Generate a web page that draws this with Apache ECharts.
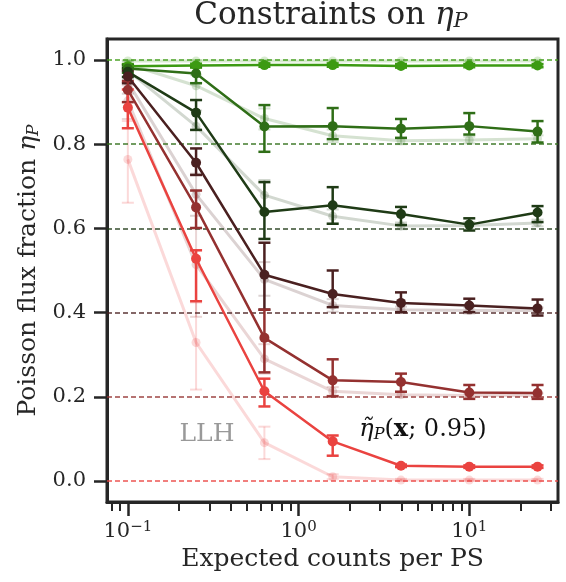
<!DOCTYPE html>
<html>
<head>
<meta charset="utf-8">
<script src="https://cdn.jsdelivr.net/npm/echarts@6/dist/echarts.min.js"></script>
<style>
  html, body { margin: 0; padding: 0; background: #fff; }
  #chart { width: 566px; height: 582px; }
</style>
</head>
<body>
<div id="chart"></div>
<script>
// expected counts per PS (x positions)
const counts = [0.1, 0.251, 0.631, 1.585, 3.981, 10, 25.12];
// true Poisson fractions (dashed lines)
const truth = [1.0, 0.8, 0.6, 0.4, 0.2, 0.0];
const colors = ['#3c9a12', '#2f6e17', '#1f3b16', '#4a2020', '#943130', '#ea4340'];

// eta tilde (x; 0.95) medians and error ranges
const eta100 = [0.985, 0.987, 0.988, 0.988, 0.986, 0.987, 0.987];
const eta100Lo = [0.979, 0.982, 0.984, 0.984, 0.982, 0.983, 0.983];
const eta100Hi = [0.990, 0.991, 0.992, 0.992, 0.990, 0.990, 0.990];
const eta80 = [0.980, 0.968, 0.842, 0.843, 0.837, 0.843, 0.830];
const eta80Lo = [0.970, 0.945, 0.782, 0.812, 0.815, 0.823, 0.804];
const eta80Hi = [0.988, 0.985, 0.893, 0.886, 0.860, 0.874, 0.855];
const eta60 = [0.972, 0.875, 0.639, 0.655, 0.634, 0.609, 0.638];
const eta60Lo = [0.960, 0.834, 0.575, 0.611, 0.608, 0.595, 0.615];
const eta60Hi = [0.982, 0.905, 0.710, 0.698, 0.651, 0.624, 0.653];
const eta40 = [0.961, 0.756, 0.490, 0.444, 0.423, 0.417, 0.410];
const eta40Lo = [0.945, 0.727, 0.407, 0.413, 0.401, 0.401, 0.393];
const eta40Hi = [0.975, 0.790, 0.566, 0.500, 0.448, 0.433, 0.431];
const eta20 = [0.929, 0.650, 0.340, 0.239, 0.235, 0.210, 0.209];
const eta20Lo = [0.900, 0.601, 0.258, 0.201, 0.212, 0.195, 0.195];
const eta20Hi = [0.950, 0.690, 0.407, 0.289, 0.255, 0.228, 0.228];
const eta0 = [0.887, 0.528, 0.213, 0.094, 0.036, 0.034, 0.034];
const eta0Lo = [0.838, 0.427, 0.177, 0.060, 0.033, 0.031, 0.031];
const eta0Hi = [0.930, 0.548, 0.243, 0.108, 0.039, 0.037, 0.037];

// LLH results (faint)
const llh100 = [0.998, 0.998, 0.998, 0.998, 0.998, 0.998, 0.998];
const llh100Lo = [0.994, 0.994, 0.995, 0.995, 0.995, 0.995, 0.995];
const llh100Hi = [1.000, 1.000, 1.000, 1.000, 1.000, 1.000, 1.000];
const llh80 = [0.990, 0.939, 0.861, 0.820, 0.808, 0.810, 0.813];
const llh80Lo = [0.975, 0.905, 0.835, 0.805, 0.800, 0.802, 0.805];
const llh80Hi = [0.998, 0.965, 0.885, 0.835, 0.816, 0.818, 0.821];
const llh60 = [0.975, 0.843, 0.679, 0.629, 0.606, 0.607, 0.613];
const llh60Lo = [0.955, 0.800, 0.640, 0.612, 0.598, 0.599, 0.605];
const llh60Hi = [0.990, 0.880, 0.715, 0.645, 0.614, 0.615, 0.621];
const llh40 = [0.948, 0.681, 0.479, 0.417, 0.407, 0.405, 0.405];
const llh40Lo = [0.920, 0.630, 0.440, 0.402, 0.400, 0.398, 0.398];
const llh40Hi = [0.970, 0.730, 0.520, 0.432, 0.414, 0.412, 0.412];
const llh20 = [0.903, 0.514, 0.290, 0.213, 0.205, 0.203, 0.203];
const llh20Lo = [0.860, 0.390, 0.255, 0.203, 0.199, 0.198, 0.198];
const llh20Hi = [0.940, 0.600, 0.325, 0.223, 0.211, 0.208, 0.208];
const llh0 = [0.764, 0.329, 0.091, 0.010, 0.002, 0.002, 0.002];
const llh0Lo = [0.661, 0.217, 0.052, 0.004, 0.000, 0.000, 0.000];
const llh0Hi = [0.855, 0.424, 0.129, 0.016, 0.005, 0.005, 0.005];

const etaSets = [
  [eta100, eta100Lo, eta100Hi], [eta80, eta80Lo, eta80Hi], [eta60, eta60Lo, eta60Hi],
  [eta40, eta40Lo, eta40Hi], [eta20, eta20Lo, eta20Hi], [eta0, eta0Lo, eta0Hi]
];
const llhSets = [
  [llh100, llh100Lo, llh100Hi], [llh80, llh80Lo, llh80Hi], [llh60, llh60Lo, llh60Hi],
  [llh40, llh40Lo, llh40Hi], [llh20, llh20Lo, llh20Hi], [llh0, llh0Lo, llh0Hi]
];

const yTicks = [0, 0.2, 0.4, 0.6, 0.8, 1.0];
const xMajor = [0.1, 1, 10];
const xMinor = [0.08, 0.09, 0.2, 0.3, 0.4, 0.5, 0.6, 0.7, 0.8, 0.9, 2, 3, 4, 5, 6, 7, 8, 9, 20, 30];

const FONT = 'DejaVu Serif';
const INK = '#262626';

function errorBars(vals, lo, hi, color, opacity, width, z) {
  return {
    type: 'custom',
    xAxisIndex: 0,
    yAxisIndex: 0,
    z: z,
    silent: true,
    encode: { x: 0, y: [1, 2] },
    data: counts.map((c, i) => [c, lo[i], hi[i]]),
    renderItem: function (params, api) {
      const x = api.value(0);
      const p1 = api.coord([x, api.value(1)]);
      const p2 = api.coord([x, api.value(2)]);
      const hw = 6;
      const style = { stroke: color, lineWidth: width, opacity: opacity };
      return {
        type: 'group',
        children: [
          { type: 'line', shape: { x1: p1[0], y1: p1[1], x2: p2[0], y2: p2[1] }, style: style },
          { type: 'line', shape: { x1: p1[0] - hw, y1: p1[1], x2: p1[0] + hw, y2: p1[1] }, style: style },
          { type: 'line', shape: { x1: p2[0] - hw, y1: p2[1], x2: p2[0] + hw, y2: p2[1] }, style: style }
        ]
      };
    }
  };
}

const series = [];
// faint LLH curves first
llhSets.forEach((s, k) => {
  series.push({
    type: 'line',
    z: 2,
    data: counts.map((c, i) => [c, s[0][i]]),
    symbol: 'circle',
    symbolSize: 9,
    lineStyle: { color: colors[k], width: 3, opacity: 0.2 },
    itemStyle: { color: colors[k], opacity: 0.2 },
    silent: true
  });
  series.push(errorBars(s[0], s[1], s[2], colors[k], 0.2, 2, 2));
});
// eta tilde curves with dashed truth lines
etaSets.forEach((s, k) => {
  series.push({
    type: 'line',
    z: 5,
    data: counts.map((c, i) => [c, s[0][i]]),
    symbol: 'circle',
    symbolSize: 10,
    lineStyle: { color: colors[k], width: 2.5 },
    itemStyle: { color: colors[k] },
    silent: true,
    markLine: {
      silent: true,
      symbol: 'none',
      label: { show: false },
      lineStyle: { color: colors[k], type: [5, 3], width: 1.5, opacity: 0.9 },
      data: [{ yAxis: truth[k] }]
    }
  });
  series.push(errorBars(s[0], s[1], s[2], colors[k], 1, 2.5, 5));
});

const chart = echarts.init(document.getElementById('chart'));
chart.setOption({
  animation: false,
  backgroundColor: '#fff',
  grid: {
    left: 107, right: 8, top: 39, bottom: 80,
    show: true, borderColor: INK, borderWidth: 3, backgroundColor: 'transparent'
  },
  xAxis: [
    {
      type: 'log', logBase: 10, min: 0.0755, max: 33.1, position: 'bottom',
      axisLine: { show: true, onZero: false, lineStyle: { color: INK, width: 3 } },
      axisTick: { show: true, customValues: xMajor, length: 14, lineStyle: { color: INK, width: 2.5 } },
      axisLabel: {
        customValues: xMajor, margin: 18, color: INK,
        formatter: function (v) {
          const e = Math.round(Math.log10(v));
          return '{b|10}{s|' + (e < 0 ? '\u2212' + (-e) : e) + '}';
        },
        rich: {
          b: { fontFamily: FONT, fontSize: 21, color: INK },
          s: { fontFamily: FONT, fontSize: 15, color: INK, verticalAlign: 'top', padding: [0, 0, 9, 0] }
        }
      },
      splitLine: { show: false },
      name: 'Expected counts per PS', nameLocation: 'middle', nameGap: 45,
      nameTextStyle: { fontFamily: FONT, fontSize: 25, color: INK }
    },
    {
      type: 'log', logBase: 10, min: 0.0755, max: 33.1, position: 'bottom',
      axisLine: { show: false, onZero: false },
      axisTick: { show: true, customValues: xMinor, length: 9, lineStyle: { color: INK, width: 2 } },
      axisLabel: { show: false },
      splitLine: { show: false }
    }
  ],
  yAxis: {
    type: 'value', min: -0.05, max: 1.05,
    axisLine: { show: true, onZero: false, lineStyle: { color: INK, width: 3 } },
    axisTick: { show: true, customValues: yTicks, length: 13, lineStyle: { color: INK, width: 2.5 } },
    axisLabel: {
      customValues: yTicks, margin: 21, color: INK, fontFamily: FONT, fontSize: 21,
      formatter: v => v.toFixed(1)
    },
    splitLine: { show: false },
    name: '{n|Poisson flux fraction }{i|\u03b7}{s|P}',
    nameLocation: 'middle', nameGap: 64, nameRotate: 90,
    nameTextStyle: {
      rich: {
        n: { fontFamily: FONT, fontSize: 25, color: INK },
        i: { fontFamily: FONT, fontSize: 25, fontStyle: 'italic', color: INK },
        s: { fontFamily: FONT, fontSize: 17, fontStyle: 'italic', color: INK, verticalAlign: 'bottom', padding: [9, 0, 0, 0] }
      }
    }
  },
  graphic: [
    {
      type: 'text', x: 331, y: 16,
      style: {
        text: '{n|Constraints on }{i|\u03b7}{s|P}',
        align: 'center', verticalAlign: 'middle',
        rich: {
          n: { fontFamily: FONT, fontSize: 31, fill: INK },
          i: { fontFamily: FONT, fontSize: 31, fontStyle: 'italic', fill: INK },
          s: { fontFamily: FONT, fontSize: 21, fontStyle: 'italic', fill: INK, verticalAlign: 'bottom', padding: [12, 0, 0, 0] }
        }
      }
    },
    {
      type: 'text', x: 207, y: 434, z: 10,
      style: {
        text: 'LLH', align: 'center', verticalAlign: 'middle',
        fontFamily: FONT, fontSize: 25, fill: '#999999'
      }
    },
    {
      type: 'text', x: 423, y: 430, z: 10,
      style: {
        text: '{i|\u03b7\u0303}{s|P}{n|(}{b|x}{n|; 0.95)}',
        align: 'center', verticalAlign: 'middle',
        rich: {
          i: { fontFamily: FONT, fontSize: 24, fontStyle: 'italic', fill: '#111' },
          s: { fontFamily: FONT, fontSize: 16, fontStyle: 'italic', fill: '#111', verticalAlign: 'bottom', padding: [9, 0, 0, 0] },
          n: { fontFamily: FONT, fontSize: 24, fill: '#111' },
          b: { fontFamily: FONT, fontSize: 24, fontWeight: 'bold', fill: '#111' }
        }
      }
    }
  ],
  series: series
});
</script>
</body>
</html>
